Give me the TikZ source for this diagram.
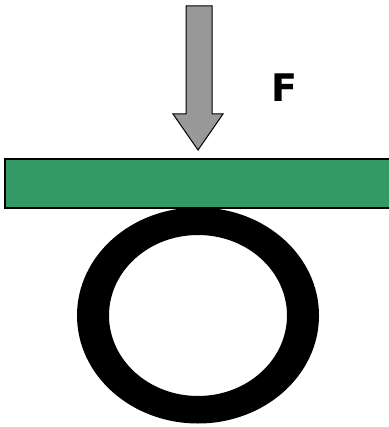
\documentclass[tikz,border=0pt]{standalone}
\usepackage{fontspec}
\setmainfont{DejaVu Sans}
\definecolor{plate}{HTML}{339966}
\definecolor{arrowgray}{HTML}{999999}
\tikzset{
  platebox/.style={draw=black, line width=1.5pt, fill=plate},
  forcearrow/.style={draw=black, line width=1pt, fill=arrowgray, line join=miter},
  ring/.style={fill=black, even odd rule},
  forcelabel/.style={font=\fontsize{38}{38}\selectfont\bfseries, inner sep=0pt}
}
\begin{document}
\begin{tikzpicture}[x=1pt,y=-1pt]
\useasboundingbox (0,0) rectangle (388,427);
% ring
\path[ring] (198,315.5) ellipse [x radius=121, y radius=108]
            (198,315.5) ellipse [x radius=89, y radius=80.5];
% plate
\path[platebox] (5,159) rectangle (392,208);
\node[coordinate] (plate) at (198,159) {};
% arrow
\path[forcearrow] (186,6) -- (212,6) -- (212,114) -- (223,114) -- (198,150) -- (173,114) -- (186,114) -- cycle;
\node[forcelabel, anchor=center] (F) at (284.5,88) {F};
\end{tikzpicture}
\end{document}
